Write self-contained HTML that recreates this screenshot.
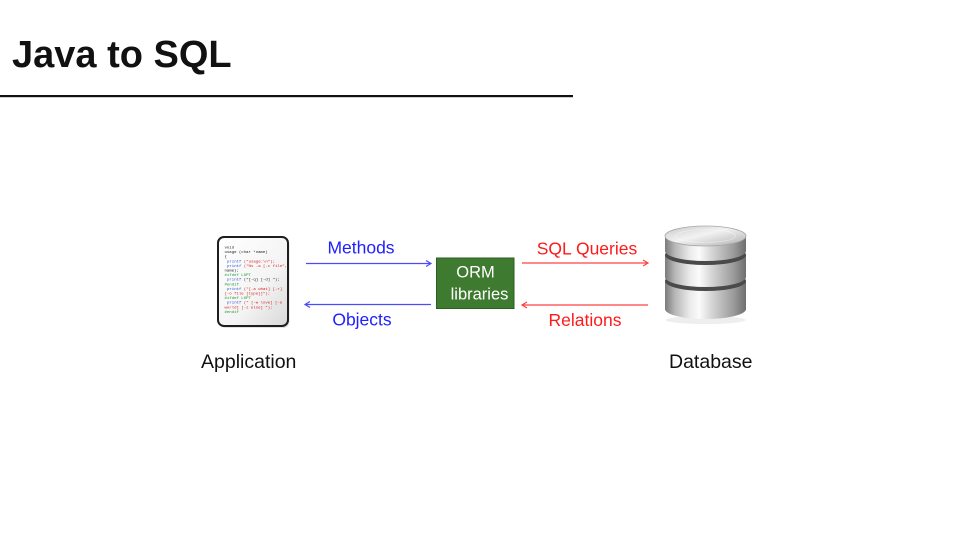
<!DOCTYPE html>
<html>
<head>
<meta charset="utf-8">
<style>
  html, body { margin: 0; padding: 0; background: #ffffff; }
  body { width: 960px; height: 540px; overflow: hidden; position: relative; }
  svg { position: absolute; left: 0; top: 0; }
</style>
</head>
<body>
<svg width="960" height="540" viewBox="0 0 960 540" xmlns="http://www.w3.org/2000/svg">
  <defs>
    <linearGradient id="side" x1="0" y1="0" x2="1" y2="0">
      <stop offset="0" stop-color="#7a7a7a"/>
      <stop offset="0.12" stop-color="#b5b5b5"/>
      <stop offset="0.3" stop-color="#e9e9e9"/>
      <stop offset="0.42" stop-color="#fbfbfb"/>
      <stop offset="0.6" stop-color="#d0d0d0"/>
      <stop offset="0.85" stop-color="#9a9a9a"/>
      <stop offset="1" stop-color="#6e6e6e"/>
    </linearGradient>
    <linearGradient id="topface" x1="0" y1="0" x2="1" y2="1">
      <stop offset="0" stop-color="#c9c9c9"/>
      <stop offset="0.45" stop-color="#f2f2f2"/>
      <stop offset="1" stop-color="#b0b0b0"/>
    </linearGradient>
    <linearGradient id="paper" x1="0" y1="0" x2="1" y2="1">
      <stop offset="0" stop-color="#ffffff"/>
      <stop offset="0.6" stop-color="#f4f4f4"/>
      <stop offset="1" stop-color="#d8d8d8"/>
    </linearGradient>
  </defs>

  <!-- Title -->
  <text x="12" y="67" font-family="Liberation Sans, sans-serif" font-size="38" font-weight="bold" fill="#111">Java to SQL</text>
  <rect x="0" y="95" width="573" height="2.2" fill="#111"/>

  <!-- Application icon -->
  <rect x="219.5" y="239" width="70" height="89" rx="6" fill="#cfcfcf" opacity="0.6"/>
  <rect x="218" y="237" width="70" height="89" rx="6" fill="url(#paper)" stroke="#1e1e1e" stroke-width="2"/>
  <g font-family="Liberation Mono, monospace" font-size="4">
    <text x="224.5" y="248.5" fill="#222">void</text>
    <text x="224.5" y="253.1" fill="#222">usage (char *name)</text>
    <text x="224.5" y="257.7" fill="#222">{</text>
    <text x="227" y="262.3"><tspan fill="#2a4fd8">printf</tspan><tspan fill="#d42020"> ("usage:\n");</tspan></text>
    <text x="227" y="266.9"><tspan fill="#2a4fd8">printf</tspan><tspan fill="#d42020"> ("%s -a [-c file",</tspan></text>
    <text x="224.5" y="271.5" fill="#222">name);</text>
    <text x="224.5" y="276.1" fill="#1c9a2c">#ifdef LOPT</text>
    <text x="227" y="280.7"><tspan fill="#2a4fd8">printf</tspan><tspan fill="#222"> ("[-q] [-d] ");</tspan></text>
    <text x="224.5" y="285.3" fill="#1c9a2c">#endif</text>
    <text x="227" y="289.9"><tspan fill="#2a4fd8">printf</tspan><tspan fill="#d42020"> ("[-a what] [-r]</tspan></text>
    <text x="224.5" y="294.5" fill="#d42020">[-o file [type]]");</text>
    <text x="224.5" y="299.1" fill="#1c9a2c">#ifdef LOPT</text>
    <text x="227" y="303.7"><tspan fill="#2a4fd8">printf</tspan><tspan fill="#d42020"> (" [-w love] [-e</tspan></text>
    <text x="224.5" y="308.3" fill="#d42020">world] [-z else] ");</text>
    <text x="224.5" y="312.9" fill="#1c9a2c">#endif</text>
  </g>

  <!-- Arrows (blue) -->
  <g stroke="#4a4aff" stroke-width="1.2" fill="none">
    <line x1="306" y1="263.5" x2="431" y2="263.5"/>
    <polyline points="426,260.5 431,263.5 426,266.5"/>
    <line x1="305" y1="304.5" x2="431" y2="304.5"/>
    <polyline points="310,301.5 305,304.5 310,307.5"/>
  </g>
  <!-- Arrows (red) -->
  <g stroke="#ff4040" stroke-width="1.2" fill="none">
    <line x1="522" y1="263" x2="648" y2="263"/>
    <polyline points="643,260 648,263 643,266"/>
    <line x1="522" y1="305" x2="648" y2="305"/>
    <polyline points="527,302 522,305 527,308"/>
  </g>

  <!-- Labels -->
  <g font-family="Liberation Sans, Arial, sans-serif" font-size="17.5" text-anchor="middle">
    <text x="361" y="253.5" fill="#2020ff">Methods</text>
    <text x="362" y="325.5" fill="#2020ff">Objects</text>
    <text x="587" y="254.5" fill="#ff1a1a">SQL Queries</text>
    <text x="585" y="326" fill="#ff1a1a">Relations</text>
  </g>

  <!-- ORM box -->
  <rect x="436.5" y="258" width="77.5" height="50.5" fill="#3e7a30" stroke="#2e5e22" stroke-width="1"/>
  <g font-family="Liberation Sans, Arial, sans-serif" font-size="16.5" text-anchor="middle" fill="#ffffff">
    <text x="475.5" y="277.5">ORM</text>
    <text x="479.5" y="299.5">libraries</text>
  </g>

  <!-- Database icon -->
  <g>
    <ellipse cx="705.5" cy="320" rx="40" ry="4" fill="#e2e2e2" opacity="0.6"/>
    <path d="M665,281 L665,309 A40.5,10 0 0 0 746,309 L746,281 Z" fill="url(#side)"/>
    <ellipse cx="705.5" cy="281" rx="40.5" ry="10" fill="#4a4a4a"/>
    <path d="M665,255 L665,277 A40.5,10 0 0 0 746,277 L746,255 Z" fill="url(#side)"/>
    <ellipse cx="705.5" cy="255" rx="40.5" ry="10" fill="#4a4a4a"/>
    <path d="M665,236 L665,251 A40.5,10 0 0 0 746,251 L746,236 Z" fill="url(#side)"/>
    <ellipse cx="705.5" cy="236" rx="40.5" ry="10" fill="url(#topface)" stroke="#a8a8a8" stroke-width="0.8"/>
    <ellipse cx="705.5" cy="236" rx="30" ry="6.5" fill="none" stroke="#ffffff" stroke-width="0.6" opacity="0.5"/>
  </g>

  <!-- Bottom labels -->
  <g font-family="Liberation Sans, Arial, sans-serif" font-size="19.5" fill="#111">
    <text x="201" y="368">Application</text>
    <text x="669" y="368">Database</text>
  </g>
</svg>
</body>
</html>
